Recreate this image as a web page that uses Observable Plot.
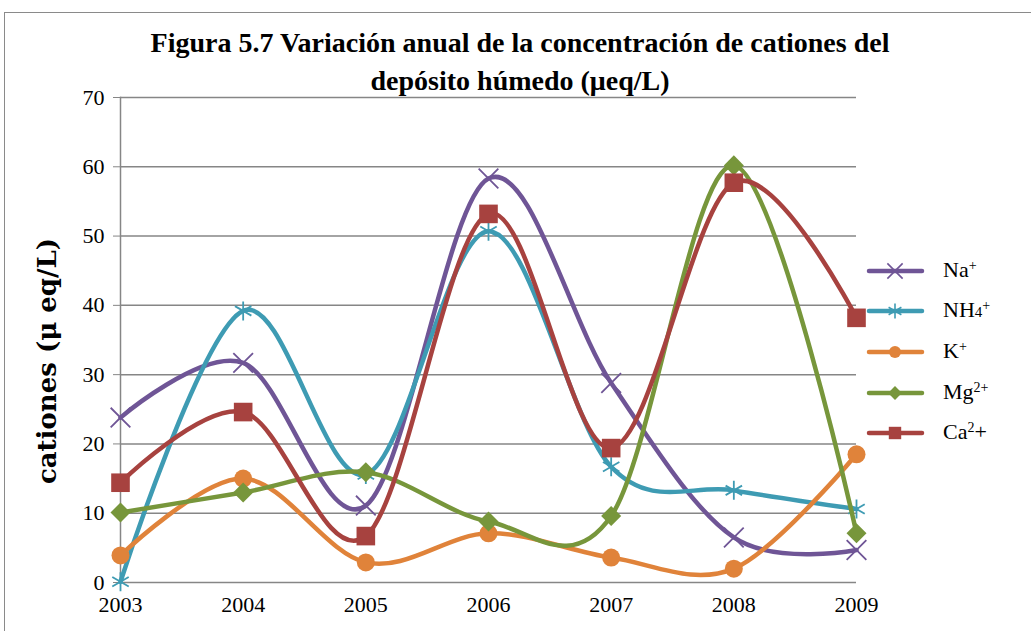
<!DOCTYPE html>
<html><head><meta charset="utf-8">
<script src="https://cdn.jsdelivr.net/npm/d3@7"></script>
<script src="https://cdn.jsdelivr.net/npm/@observablehq/plot@0.6"></script>
<style>
body{margin:0;background:#fff;}
#wrap{position:relative;width:1031px;height:631px;overflow:hidden;background:#fff;}
#border{position:absolute;left:4px;top:12px;width:1060px;height:660px;border:1.5px solid #8a8a8a;box-sizing:border-box;}
#title{position:absolute;left:0;width:1040px;top:24px;text-align:center;font-family:"Liberation Serif",serif;font-weight:bold;font-size:28px;line-height:38px;color:#000;}
#ylab{position:absolute;left:47px;top:361px;transform:translate(-50%,-50%) rotate(-90deg);white-space:nowrap;font-family:"DejaVu Serif",serif;font-weight:bold;font-size:26px;color:#000;}
#chart{position:absolute;left:0;top:0;}
.leg{position:absolute;font-family:"Liberation Serif",serif;font-size:22px;color:#000;line-height:1;}
.sup{font-size:14px;vertical-align:7px;}
.sub{font-size:15px;}
</style></head>
<body>
<div id="wrap">
<div id="border"></div>
<div id="chart"></div>
<div id="title">Figura 5.7 Variación anual de la concentración de cationes del<br>depósito húmedo (μeq/L)</div>
<div id="ylab">cationes (μ eq/L)</div>
</div>
<script>
const years = [2003, 2004, 2005, 2006, 2007, 2008, 2009];
const naValues  = [23.8, 31.7, 11.1, 58.3, 28.8, 6.5, 4.7];
const nh4Values = [0.1, 39.2, 15.6, 50.7, 16.7, 13.3, 10.6];
const kValues   = [3.9, 15.0, 2.9, 7.1, 3.6, 2.0, 18.5];
const mgValues  = [10.1, 13.0, 15.9, 8.8, 9.6, 60.2, 7.1];
const caValues  = [14.4, 24.6, 6.7, 53.2, 19.4, 57.7, 38.2];
const yTicks = [0, 10, 20, 30, 40, 50, 60, 70];

const series = [
  {key:"Na", label:'Na<span class="sup">+</span>', values:naValues, color:"#6f5596", symbol:"times", r:9, filled:false, rotate:0, lr:7},
  {key:"NH4", label:'NH<span class="sub">4</span><span class="sup">+</span>', values:nh4Values, color:"#3e9bb3", symbol:"asterisk", r:9, filled:false, rotate:0, lr:7},
  {key:"K", label:'K<span class="sup">+</span>', values:kValues, color:"#e0833a", symbol:"circle", r:9, filled:true, rotate:0, lr:6},
  {key:"Mg", label:'Mg<span class="sup">2+</span>', values:mgValues, color:"#77963b", symbol:"square", r:8, filled:true, rotate:45, lr:5.5},
  {key:"Ca", label:'Ca<span class="sup">2</span>+', values:caValues, color:"#a7423f", symbol:"square", r:10.5, filled:true, rotate:0, lr:7}
];

const marks = [
  Plot.ruleY(yTicks, {stroke:"#868686", strokeWidth:1.5}),
  Plot.frame({anchor:"left", stroke:"#868686", strokeWidth:1.5}),
  Plot.axisY({ticks:yTicks, tickSize:7, tickPadding:9, stroke:"#868686", fill:"#000", fontSize:22, tickFormat:d=>String(d)}),
  Plot.axisX({ticks:years, tickSize:0, tickPadding:14, fill:"#000", fontSize:22, tickFormat:d=>String(d)})
];
for (const s of series) {
  const data = years.map((y,i)=>({year:y, value:s.values[i]}));
  marks.push(Plot.line(data, {x:"year", y:"value", stroke:s.color, strokeWidth:4.5, curve:"cardinal", strokeLinecap:"round", strokeLinejoin:"round"}));
  if (s.filled) {
    marks.push(Plot.dot(data, {x:"year", y:"value", symbol:s.symbol, r:s.r, fill:s.color, stroke:"none", rotate:s.rotate}));
  } else {
    marks.push(Plot.dot(data, {x:"year", y:"value", symbol:s.symbol, r:s.r, stroke:s.color, strokeWidth:1.8, fill:"none"}));
  }
}

const chart = Plot.plot({
  width:1031, height:631,
  marginLeft:120, marginRight:175, marginTop:97, marginBottom:49,
  style:{fontFamily:"Liberation Serif, serif", fontSize:"22px", background:"transparent", overflow:"visible"},
  x:{domain:[2003,2009], label:null},
  y:{domain:[0,70], label:null},
  marks
});
document.getElementById("chart").appendChild(chart);

// legend
const wrap = document.getElementById("wrap");
const legY = [271, 311, 352, 393, 433];
const lsvg = d3.select(wrap).append("svg").attr("width",80).attr("height",220)
  .style("position","absolute").style("left","860px").style("top","250px");
series.forEach((s,i)=>{
  const cy = legY[i]-250;
  lsvg.append("line").attr("x1",9).attr("x2",62).attr("y1",cy).attr("y2",cy)
    .attr("stroke",s.color).attr("stroke-width",4.5).attr("stroke-linecap","round");
  const sym = {times:d3.symbolTimes, asterisk:d3.symbolAsterisk, circle:d3.symbolCircle, square:d3.symbolSquare}[s.symbol];
  const p = d3.symbol(sym, Math.PI*s.lr*s.lr)();
  const g = lsvg.append("path").attr("d",p).attr("transform",`translate(35,${cy}) rotate(${s.rotate})`);
  if (s.filled) g.attr("fill",s.color); else g.attr("fill","none").attr("stroke",s.color).attr("stroke-width",1.6);
  const div = document.createElement("div");
  div.className="leg"; div.innerHTML=s.label;
  div.style.left="943px"; div.style.top=(legY[i]-12)+"px";
  wrap.appendChild(div);
});
</script>
</body></html>
